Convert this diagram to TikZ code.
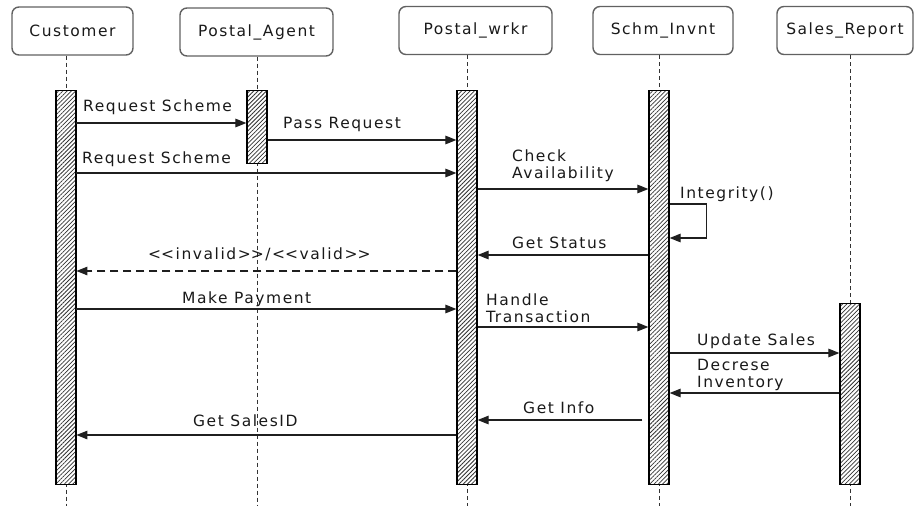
\documentclass[tikz,border=0pt]{standalone}
\usepackage{fontspec}
\setmainfont{DejaVu Sans}[LetterSpace=10]
\usetikzlibrary{arrows.meta,patterns.meta,backgrounds}

\begin{document}
\begin{tikzpicture}[x=1pt,y=-1pt,
  txt/.style={font=\fontsize{15.5}{17}\selectfont, text=black!90},
  actor/.style={txt, draw=black!62, line width=1.4pt, rounded corners=7pt,
    minimum height=48pt, inner sep=0pt},
  lifeline/.style={draw=black!80, line width=0.8pt, dash pattern=on 4pt off 3pt},
  activation/.style={draw=black, line width=1.2pt, minimum width=20pt,
    inner sep=0pt, anchor=north, preaction={fill=white},
    pattern={Lines[angle=45,distance=3pt,line width=0.75pt]}, pattern color=black!80},
  msg/.style={draw=black!88, line width=1.1pt, -{Triangle[length=11pt,width=8.5pt]}},
  reply/.style={msg, dash pattern=on 8pt off 5pt},
  lbl/.style={txt, inner sep=0pt, anchor=base west, align=left},
]
\useasboundingbox (0,0) rectangle (916,506);

% participants
\node[actor, minimum width=121pt] (customer) at (72.5,31) {Customer};
\node[actor, minimum width=153pt] (agent)    at (256.5,32) {Postal\_Agent};
\node[actor, minimum width=153pt] (wrkr)     at (475.5,30.5) {Postal\_wrkr};
\node[actor, minimum width=140pt] (invnt)    at (663,30.5) {Schm\_Invnt};
\node[actor, minimum width=136pt] (sales)    at (845,30.5) {Sales\_Report};

% activation bars
\node[activation, minimum height=394pt] (cbar) at (66,90) {};
\node[activation, minimum height=73pt]  (abar) at (257,90) {};
\node[activation, minimum height=394pt] (wbar) at (467,90) {};
\node[activation, minimum height=394pt] (ibar) at (659,90) {};
\node[activation, minimum height=181pt] (sbar) at (850,303) {};

% lifelines behind the bars
\begin{scope}[on background layer]
  \draw[lifeline] (cbar.north |- customer.south) -- (cbar.south |- 0,506);
  \draw[lifeline] (abar.north |- agent.south) -- (abar.south |- 0,506);
  \draw[lifeline] (wbar.north |- wrkr.south) -- (wbar.south |- 0,506);
  \draw[lifeline] (ibar.north |- invnt.south) -- (ibar.south |- 0,506);
  \draw[lifeline] (sbar.north |- sales.south) -- (sbar.south |- 0,506);
\end{scope}

% messages
\draw[msg] (cbar.east |- 0,123) -- (abar.west |- 0,123);
\node[lbl] (m1) at (83,111) {Request Scheme};

\draw[msg] (abar.east |- 0,140) -- (wbar.west |- 0,140);
\node[lbl] (m2) at (283,128) {Pass Request};

\draw[msg] (cbar.east |- 0,173) -- (wbar.west |- 0,173);
\node[lbl] (m3) at (82,163) {Request Scheme};

\draw[msg] (wbar.east |- 0,189) -- (ibar.west |- 0,189);
\node[lbl] (m4) at (512,178) {Check\\Availability};

\draw[msg] (ibar.east |- 0,204) -- ++(37,0) -- ++(0,34) -- (ibar.east |- 0,238);
\node[lbl] (m5) at (680,198) {Integrity()};

\draw[msg] (ibar.west |- 0,255) -- (wbar.east |- 0,255);
\node[lbl] (m6) at (512,248) {Get Status};

\draw[reply] (wbar.west |- 0,271) -- (cbar.east |- 0,271);
\node[lbl] (m7) at (148,259) {<\kern0pt<invalid>\kern0pt>/<\kern0pt<valid>\kern0pt>};

\draw[msg] (cbar.east |- 0,309) -- (wbar.west |- 0,309);
\node[lbl] (m8) at (182,303) {Make Payment};

\draw[msg] (wbar.east |- 0,327) -- (ibar.west |- 0,327);
\node[lbl] (m9) at (486,322) {Handle\\Transaction};

\draw[msg] (ibar.east |- 0,353) -- (sbar.west |- 0,353);
\node[lbl] (m10) at (697,345) {Update Sales};

\draw[msg] (sbar.west |- 0,393) -- (ibar.east |- 0,393);
\node[lbl] (m11) at (697,387) {Decrese\\Inventory};

\draw[msg, shorten <=6pt] (ibar.west |- 0,420) -- (wbar.east |- 0,420);
\node[lbl] (m12) at (523,413) {Get Info};

\draw[msg] (wbar.west |- 0,435) -- (cbar.east |- 0,435);
\node[lbl] (m13) at (193,426) {Get SalesID};
\end{tikzpicture}
\end{document}
